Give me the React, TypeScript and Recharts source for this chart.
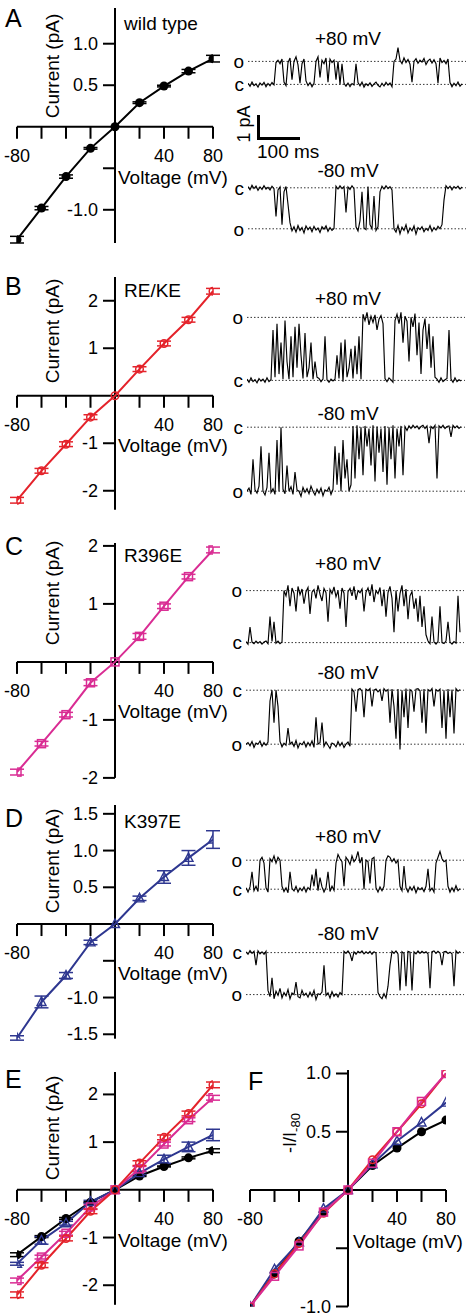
import React from 'react';
import { LineChart, Line, XAxis, YAxis, ReferenceLine, ReferenceDot, ErrorBar } from 'recharts';

const FONT = '"Liberation Sans", Arial, Helvetica, sans-serif';

// ---------- IV data ----------
const voltages = [-80, -60, -40, -20, 0, 20, 40, 60, 80];
const wtCurrent = [-1.36, -0.98, -0.6, -0.26, 0, 0.29, 0.49, 0.67, 0.82];
const wtErr = [0.04, 0.02, 0.02, 0.01, 0, 0.01, 0.01, 0.02, 0.04];
const rekeCurrent = [-2.2, -1.58, -1.02, -0.45, 0, 0.56, 1.1, 1.6, 2.2];
const rekeErr = [0.06, 0.05, 0.05, 0.05, 0, 0.05, 0.05, 0.05, 0.06];
const r396eCurrent = [-1.9, -1.41, -0.91, -0.36, 0, 0.44, 0.96, 1.47, 1.93];
const r396eErr = [0.05, 0.04, 0.04, 0.05, 0, 0.05, 0.04, 0.04, 0.05];
const k397eCurrent = [-1.55, -1.06, -0.7, -0.25, 0, 0.35, 0.64, 0.9, 1.15];
const k397eErr = [0.03, 0.08, 0.04, 0.03, 0, 0.03, 0.085, 0.1, 0.12];

// normalized -I/I-80
const wtNorm = [-1, -0.72, -0.44, -0.19, 0, 0.21, 0.36, 0.5, 0.6];
const rekeNorm = [-1, -0.72, -0.46, -0.2, 0, 0.26, 0.5, 0.74, 1.0];
const r396eNorm = [-1, -0.74, -0.48, -0.19, 0, 0.23, 0.5, 0.76, 1.0];
const k397eNorm = [-1, -0.68, -0.45, -0.16, 0, 0.22, 0.42, 0.58, 0.75];

// ---------- tick labels ----------
const xTicks = [-80, -60, -40, -20, 20, 40, 60, 80];
const xTickLabels = ['-80', '', '', '', '', '40', '', '80'];
const aYTicks = [1.0, 0.5, -0.5, -1.0];
const aYTickLabels = ['1.0', '0.5', '', '-1.0'];
const bYTicks = [2, 1, -1, -2];
const bYTickLabels = ['2', '1', '-1', '-2'];
const cYTicks = [2, 1, -1, -2];
const cYTickLabels = ['2', '1', '-1', '-2'];
const dYTicks = [1.5, 1.0, 0.5, -0.5, -1.0, -1.5];
const dYTickLabels = ['1.5', '1.0', '0.5', '', '-1.0', '-1.5'];
const eYTicks = [2, 1, -1, -2];
const eYTickLabels = ['2', '1', '-1', '-2'];
const fYTicks = [1.0, 0.5, -0.5, -1.0];
const fYTickLabels = ['1.0', '0.5', '', '-1.0'];

// ---------- single channel traces (fraction of open level; 0 = closed) ----------
const traceA80 = [0.05,-0.08,0.1,-0.05,0.02,-0.12,0.06,-0.03,0.09,-0.1,0.04,-0.06,0.08,-0.02,
0.95,1.05,0.9,1.1,0.1,-0.05,0.95,1.15,0.2,1.0,1.2,0.85,0.05,0.9,1.1,0.15,-0.05,0.08,-0.1,0.05,1.0,1.2,0.3,1.05,0.9,1.15,0.1,1.1,0.95,1.05,0.2,1.0,0.0,0.9,0.05,
-0.08,0.06,-0.1,0.04,-0.02,0.9,0.08,-0.06,0.1,-0.12,0.03,-0.05,0.07,-0.09,0.02,0.1,-0.04,-0.11,0.05,-0.07,0.09,-0.03,0.06,-0.1,
1.0,1.1,1.6,1.05,0.9,1.15,0.95,1.08,0.88,0.1,1.0,1.12,0.92,1.05,0.97,1.13,0.86,1.02,1.1,0.93,1.07,0.9,0.05,1.15,0.95,1.04,0.9,1.1,
0.08,-0.1,0.05,-0.06,0.1,-0.08,0.02];
const traceAm80 = [0.03,-0.05,0.06,-0.02,0.04,-0.06,0.02,-0.04,0.05,-0.03,0.01,-0.05,0.04,-0.02,
-0.7,-0.05,0.02,-0.9,-0.1,0.03,-0.4,
-0.85,-1.05,-0.95,-1.08,-0.92,-1.04,-0.97,-1.1,-0.93,-1.02,-0.96,-1.07,-0.94,-1.03,-0.98,-1.09,-0.95,-1.01,-0.93,-1.06,-0.97,-1.04,-0.99,
0.04,-0.03,0.05,-0.02,0.03,-0.6,0.02,-0.04,0.05,-0.02,
-0.95,-1.05,-0.8,-0.1,-0.98,-1.02,0.03,-0.9,-1.0,-0.2,-1.04,-0.95,-0.1,0.04,-0.03,0.05,-0.02,0.03,-0.05,
-1.0,-1.08,-0.92,-1.12,-0.96,-1.04,-0.9,-1.1,-0.98,-1.05,-0.93,-1.13,-0.97,-1.02,-0.95,-1.07,-0.99,-1.04,-0.92,-1.06,-0.97,-1.03,-0.94,-1.0,-0.9,
-0.3,0.05,-0.02,0.04,-0.05,0.03,-0.01,0.04,-0.03,0.02];
const traceB80 = [0.02,-0.03,0.04,-0.02,0.01,-0.04,0.03,-0.01,0.02,-0.03,0.04,-0.02,0.01,
0.8,0.05,0.9,0.1,0.6,0.02,0.95,0.3,0.02,0.7,0.05,0.85,0.2,0.9,0.4,0.03,0.75,0.05,0.2,0.6,0.02,0.3,0.05,
0.03,-0.02,0.02,0.7,0.01,-0.03,0.02,-0.01,
0.02,0.4,0.03,0.6,-0.02,0.65,0.05,0.2,0.5,0.03,0.55,0.1,0.7,0.02,
1.05,0.95,1.08,0.88,1.02,0.92,1.04,0.8,0.97,1.03,0.9,
0.03,-0.02,0.04,0.01,-0.03,
0.95,1.05,0.9,1.08,0.6,1.02,0.94,0.3,1.0,0.85,1.06,0.4,0.92,0.1,0.8,0.98,0.5,0.9,0.2,0.7,0.05,
0.02,-0.03,0.04,-0.02,0.01,0.03,0.8,0.02,-0.03,0.04,-0.02,0.01,-0.01];
const traceBm80 = [-1.0,-0.95,-1.05,-0.5,-0.98,-1.03,-0.92,-0.3,-1.0,-1.06,-0.94,-0.4,-1.02,-0.96,-1.05,-0.2,-1.0,0.0,-0.97,-1.04,-0.6,-1.0,-0.93,-1.05,-0.7,-0.98,-1.0,-1.08,-0.94,-1.02,-0.96,-1.04,-0.92,-1.0,-1.06,-0.97,-1.03,-0.95,-1.07,-0.98,-1.0,-0.94,-1.05,-0.97,-0.3,-0.9,-0.4,-1.0,-0.2,-0.8,-0.5,-1.0,-0.9,
0.02,-0.8,0.03,-0.5,0.0,-0.75,0.02,-0.3,-0.02,-0.6,0.03,-0.85,0.01,-0.4,-0.02,-0.7,0.02,-0.9,0.0,-0.5,0.03,-0.8,-0.02,-0.3,0.02,-0.75,0.01,-0.05,
0.02,-0.02,0.03,-0.01,0.02,-0.03,0.01,0.03,-0.02,0.02,-0.25,0.01,-0.02,0.03,-0.8,0.02,-0.01,0.03,-0.02,0.01,0.02,-0.15,0.03,-0.01,0.02,-0.02,0.01];
const traceC80 = [0.02,-0.03,0.3,0.01,-0.02,0.03,-0.01,0.02,-0.03,0.01,0.03,-0.02,0.5,0.02,0.4,-0.01,0.03,-0.02,0.01,
1.0,0.9,1.1,0.7,1.05,0.95,0.6,1.08,0.92,1.03,
0.75,0.98,1.06,0.55,0.97,1.02,0.85,1.1,0.93,0.8,
1.04,0.96,0.4,1.02,0.94,1.07,0.88,1.0,0.65,1.05,
0.95,0.3,0.98,1.04,0.9,1.08,0.82,1.0,0.96,1.03,
0.6,0.97,1.05,0.9,1.12,0.78,1.0,0.94,1.06,0.7,
1.02,0.5,0.96,1.08,0.85,0.2,1.0,0.6,0.94,1.1,
0.7,1.03,0.45,0.9,0.98,0.65,0.85,0.4,0.9,0.3,
0.7,0.15,
0.03,-0.02,0.5,0.01,-0.03,0.02,0.7,0.0,-0.02,0.03,0.4,0.01,-0.03,0.02,-0.01,0.9,0.2];
const traceCm80 = [-1.0,-0.97,-1.03,-0.95,-1.06,-0.98,-1.0,-0.94,-1.04,-0.97,
-1.02,-0.96,-0.2,0.0,-0.6,0.0,-0.3,-0.95,-1.05,-0.98,
-1.02,-0.7,-1.0,-0.96,-1.04,-0.93,-1.07,-0.98,-1.01,-0.95,
-1.05,-0.97,-1.03,-0.94,-1.06,-0.5,-1.0,-0.97,-0.6,-1.04,
-0.96,-1.02,-1.08,-0.98,-1.0,-1.05,-0.95,-1.03,-0.97,-1.06,
-1.0,-0.96,-1.04,
0.02,-0.03,-0.4,0.01,0.03,-0.02,-0.5,0.02,-0.01,0.03,
-0.3,0.0,0.02,-0.03,0.01,-0.2,0.03,-0.02,0.01,-0.6,
0.02,-0.3,-0.9,0.02,-1.1,0.0,-0.5,0.03,-0.7,0.01,
-0.02,-0.4,0.02,0.03,-0.01,-0.6,0.02,-0.8,0.01,-0.02,
0.03,-0.3,0.01,-0.02,0.02,-0.7,0.0,-0.9,0.02,-0.5,
0.01,-0.8,0.03,-0.02,0.01];
const traceD80 = [0.05,-0.1,0.08,0.6,-0.05,0.1,-0.08,
1.0,1.1,0.9,
0.05,-0.1,
1.05,0.95,1.15,0.9,1.1,1.0,
0.1,-0.08,0.05,-0.12,0.6,0.02,-0.06,0.1,-0.1,0.04,-0.05,0.08,-0.1,0.06,-0.02,0.5,0.1,0.7,-0.05,0.4,0.08,-0.1,0.05,0.6,-0.08,0.1,-0.04,
0.9,1.2,1.05,0.95,0.1,1.1,1.0,0.85,1.15,0.95,1.05,1.3,0.9,1.1,0.0,1.0,0.95,0.2,1.05,1.1,
0.05,-0.1,0.08,-0.05,0.1,
1.0,1.15,1.1,0.95,1.05,0.9,1.0,
0.1,-0.05,0.8,0.05,-0.1,0.08,-0.04,0.1,-0.12,0.06,-0.02,0.05,-0.08,0.1,0.7,-0.06,0.04,-0.1,
0.9,1.1,1.3,1.05,0.95,1.0,
0.1,-0.1,0.05,-0.08,0.12,-0.05,0.02];
const traceDm80 = [0.02,-0.04,0.05,-0.02,0.03,-0.3,0.04,-0.03,0.02,-0.04,0.03,
-0.9,-1.05,-0.6,-1.1,-0.92,-1.02,-0.85,-1.08,-0.95,-1.03,
-0.88,-1.1,-0.96,-1.0,-0.7,-1.05,-1.08,-0.9,-1.02,-0.97,
-1.06,-0.94,-1.04,-0.9,-1.12,-0.98,-1.0,-0.94,-0.3,-1.02,
-0.96,-1.08,-0.93,-1.04,-0.98,-1.06,-0.95,-1.0,
0.03,-0.02,0.04,-0.03,-0.2,0.02,-0.04,0.03,-0.01,0.04,-0.03,0.02,-0.02,0.03,-0.04,0.02,-0.01,
-0.95,-1.05,-1.1,-0.98,-1.08,-0.8,
-0.3,0.03,-0.02,0.04,-0.03,-0.9,0.02,-0.02,-0.8,0.03,
0.01,-0.9,0.02,-0.03,0.04,-0.02,0.03,-0.01,0.02,-0.03,
-0.85,0.02,0.04,-0.02,0.03,-0.01,-0.3,0.02,0.03,-0.02,
0.01,-0.03,-0.8,0.04,-0.02,0.03];

// ---------- colours ----------
const BLACK = '#000000';
const RED = '#e4232b';
const MAGENTA = '#d92c93';
const BLUE = '#2e3790';

const ivRows = voltages.map((v, i) => ({
  v,
  wt: wtCurrent[i], wtErr: wtErr[i],
  reke: rekeCurrent[i], rekeErr: rekeErr[i],
  r396e: r396eCurrent[i], r396eErr: r396eErr[i],
  k397e: k397eCurrent[i], k397eErr: k397eErr[i],
  wtN: wtNorm[i], rekeN: rekeNorm[i], r396eN: r396eNorm[i], k397eN: k397eNorm[i],
}));

type Marker = 'filledCircle' | 'openCircle' | 'openSquare' | 'openTriangle';
type SeriesDef = { key: string; errKey?: string; color: string; marker: Marker };

function markerRenderer(kind: Marker, color: string) {
  return (props: any) => {
    const { cx, cy, index } = props;
    const k = `m-${index}`;
    if (cx == null || cy == null) return <g key={k} />;
    if (kind === 'filledCircle') return <circle key={k} cx={cx} cy={cy} r={4.5} fill={color} />;
    if (kind === 'openCircle')
      return <circle key={k} cx={cx} cy={cy} r={3.8} fill="none" stroke={color} strokeWidth={1.5} />;
    if (kind === 'openSquare')
      return <rect key={k} x={cx - 4} y={cy - 4} width={8} height={8} fill="none" stroke={color} strokeWidth={1.5} />;
    return (
      <polygon key={k} points={`${cx},${cy - 5} ${cx - 4.5},${cy + 3.5} ${cx + 4.5},${cy + 3.5}`}
        fill="none" stroke={color} strokeWidth={1.4} />
    );
  };
}

type IVProps = {
  left: number; plotTop: number; plotH: number; yDomain: [number, number];
  yTicks: number[]; yTickLabels: string[]; series: SeriesDef[]; showErr: boolean;
};

function IVPanel({ left, plotTop, plotH, yDomain, yTicks, yTickLabels, series, showErr }: IVProps) {
  const mt = 12, mb = 70, ml = 17, mr = 27;
  const width = ml + 196 + mr;
  const height = mt + plotH + mb;
  return (
    <div style={{ position: 'absolute', left, top: plotTop - mt }}>
      <LineChart width={width} height={height} data={ivRows} margin={{ top: mt, right: mr, bottom: mb, left: ml }}>
        <XAxis type="number" dataKey="v" domain={[-80, 80]} hide allowDataOverflow />
        <YAxis type="number" domain={yDomain} hide allowDataOverflow />
        <ReferenceLine segment={[{ x: -80, y: 0 }, { x: 80, y: 0 }]} stroke="#000" strokeWidth={2} ifOverflow="visible" />
        <ReferenceLine segment={[{ x: 0, y: yDomain[0] }, { x: 0, y: yDomain[1] }]} stroke="#000" strokeWidth={2} ifOverflow="visible" />
        {xTicks.map((t, i) => (
          <ReferenceDot key={'xt' + i} x={t} y={0} ifOverflow="visible"
            shape={(p: any) => (
              <g>
                <line x1={p.cx} y1={p.cy} x2={p.cx} y2={p.cy + 12} stroke="#000" strokeWidth={2} />
                {xTickLabels[i] ? (
                  <text x={p.cx} y={p.cy + 29} textAnchor="middle" dominantBaseline="central"
                    fontFamily={FONT} fontSize={18} fill="#000">{xTickLabels[i]}</text>
                ) : null}
              </g>
            )} />
        ))}
        {yTicks.map((t, i) => (
          <ReferenceDot key={'yt' + i} x={0} y={t} ifOverflow="visible"
            shape={(p: any) => (
              <g>
                <line x1={p.cx - 12} y1={p.cy} x2={p.cx} y2={p.cy} stroke="#000" strokeWidth={2} />
                {yTickLabels[i] ? (
                  <text x={p.cx - 17} y={p.cy} textAnchor="end" dominantBaseline="central"
                    fontFamily={FONT} fontSize={18} fill="#000">{yTickLabels[i]}</text>
                ) : null}
              </g>
            )} />
        ))}
        {series.map((s) => (
          <Line key={s.key} dataKey={s.key} type="linear" stroke={s.color} strokeWidth={2}
            dot={markerRenderer(s.marker, s.color)} activeDot={false} isAnimationActive={false}>
            {showErr && s.errKey ? (
              <ErrorBar dataKey={s.errKey} width={7} stroke={s.color} strokeWidth={1.5} direction="y" />
            ) : null}
          </Line>
        ))}
      </LineChart>
    </div>
  );
}

type TraceProps = { x0: number; yC: number; d: number; values: number[]; positive: boolean };

function Trace({ x0, yC, d, values, positive }: TraceProps) {
  const ml = 20, mr = 4, step = 2;
  const plotW = step * (values.length + 1);
  const lo = -1.8, hi = 1.8;
  const plotH = (hi - lo) * d;
  const data = values.map((v, i) => ({ t: i, v }));
  const lab = (s: string) => ({ value: s, position: 'left' as const, offset: 4, fontSize: 19, fill: '#000', fontFamily: FONT });
  return (
    <div style={{ position: 'absolute', left: x0 - ml, top: yC - hi * d }}>
      <LineChart width={ml + plotW + mr} height={plotH} data={data} margin={{ top: 0, bottom: 0, left: ml, right: mr }}>
        <XAxis type="number" dataKey="t" domain={[0, values.length + 1]} hide allowDataOverflow />
        <YAxis type="number" domain={[lo, hi]} hide allowDataOverflow />
        <ReferenceLine y={0} stroke="#333" strokeDasharray="1.5 2" strokeWidth={1} label={lab('c')} />
        <ReferenceLine y={positive ? 1 : -1} stroke="#333" strokeDasharray="1.5 2" strokeWidth={1} label={lab('o')} />
        <Line dataKey="v" type="linear" stroke="#000" strokeWidth={1.15} dot={false} activeDot={false} isAnimationActive={false} />
      </LineChart>
    </div>
  );
}

const allSeriesE: SeriesDef[] = [
  { key: 'wt', errKey: 'wtErr', color: BLACK, marker: 'filledCircle' },
  { key: 'k397e', errKey: 'k397eErr', color: BLUE, marker: 'openTriangle' },
  { key: 'r396e', errKey: 'r396eErr', color: MAGENTA, marker: 'openSquare' },
  { key: 'reke', errKey: 'rekeErr', color: RED, marker: 'openCircle' },
];
const allSeriesF: SeriesDef[] = [
  { key: 'wtN', color: BLACK, marker: 'filledCircle' },
  { key: 'k397eN', color: BLUE, marker: 'openTriangle' },
  { key: 'rekeN', color: RED, marker: 'openCircle' },
  { key: 'r396eN', color: MAGENTA, marker: 'openSquare' },
];

const txt = { fontFamily: FONT, fill: '#000' };

function Overlay() {
  const currentLabelY = [66, 331, 593, 861, 1128];
  const voltageLabelY = [177, 445, 711, 973, 1240];
  const titles: [string, number][] = [['wild type', 30], ['RE/KE', 297], ['R396E', 562], ['K397E', 828]];
  const letters: [string, number, number][] = [['A', 5, 27], ['B', 5, 295], ['C', 5, 555], ['D', 5, 827], ['E', 5, 1088], ['F', 248, 1090]];
  const plusY = [38, 298, 563, 836];
  const minusY = [170, 413, 672, 933];
  return (
    <svg width={472} height={1316} style={{ position: 'absolute', left: 0, top: 0, pointerEvents: 'none' }}>
      {letters.map(([s, x, y]) => (
        <text key={s} x={x} y={y} fontSize={25} {...txt}>{s}</text>
      ))}
      {titles.map(([s, y]) => (
        <text key={s} x={124} y={y} fontSize={19} {...txt}>{s}</text>
      ))}
      {currentLabelY.map((y, i) => (
        <text key={'cl' + i} x={52} y={y} fontSize={19} textAnchor="middle" dominantBaseline="central"
          transform={`rotate(-90 52 ${y})`} {...txt}>Current (pA)</text>
      ))}
      {voltageLabelY.map((y, i) => (
        <text key={'vl' + i} x={118} y={y} fontSize={19} dominantBaseline="central" {...txt}>Voltage (mV)</text>
      ))}
      <text x={353} y={1241} fontSize={19} dominantBaseline="central" {...txt}>Voltage (mV)</text>
      <text x={290} y={1133} fontSize={18} textAnchor="middle" dominantBaseline="central"
        transform="rotate(-90 290 1133)" {...txt}>-I/I<tspan fontSize={13} dy={5}>-80</tspan></text>
      {plusY.map((y, i) => (
        <text key={'p' + i} x={348} y={y} fontSize={19} textAnchor="middle" dominantBaseline="central" {...txt}>+80 mV</text>
      ))}
      {minusY.map((y, i) => (
        <text key={'m' + i} x={348} y={y} fontSize={19} textAnchor="middle" dominantBaseline="central" {...txt}>-80 mV</text>
      ))}
      {/* scale bar */}
      <path d="M258.5 115 L258.5 138.5 L300 138.5" fill="none" stroke="#000" strokeWidth={3} />
      <text x={244} y={124} fontSize={18} textAnchor="middle" dominantBaseline="central"
        transform="rotate(-90 244 124)" {...txt}>1 pA</text>
      <text x={257} y={151} fontSize={19} dominantBaseline="central" {...txt}>100 ms</text>
    </svg>
  );
}

export default function App() {
  return (
    <div style={{ position: 'absolute', left: 0, top: 0, width: 472, height: 1316, background: '#fff', overflow: 'hidden' }}>
      <IVPanel left={0} plotTop={8.3} plotH={235} yDomain={[-1.4, 1.43]} yTicks={aYTicks} yTickLabels={aYTickLabels}
        series={[{ key: 'wt', errKey: 'wtErr', color: BLACK, marker: 'filledCircle' }]} showErr />
      <IVPanel left={0} plotTop={277.25} plotH={232.75} yDomain={[-2.4, 2.5]} yTicks={bYTicks} yTickLabels={bYTickLabels}
        series={[{ key: 'reke', errKey: 'rekeErr', color: RED, marker: 'openCircle' }]} showErr />
      <IVPanel left={0} plotTop={543.1} plotH={234.9} yDomain={[-2.0, 2.05]} yTicks={cYTicks} yTickLabels={cYTickLabels}
        series={[{ key: 'r396e', errKey: 'r396eErr', color: MAGENTA, marker: 'openSquare' }]} showErr />
      <IVPanel left={0} plotTop={804.9} plotH={233.7} yDomain={[-1.56, 1.62]} yTicks={dYTicks} yTickLabels={dYTickLabels}
        series={[{ key: 'k397e', errKey: 'k397eErr', color: BLUE, marker: 'openTriangle' }]} showErr />
      <IVPanel left={0} plotTop={1072.2} plotH={232.8} yDomain={[-2.41, 2.47]} yTicks={eYTicks} yTickLabels={eYTickLabels}
        series={allSeriesE} showErr />
      <IVPanel left={233} plotTop={1069.5} plotH={236.5} yDomain={[-1.0, 1.03]} yTicks={fYTicks} yTickLabels={fYTickLabels}
        series={allSeriesF} showErr={false} />

      <Trace x0={248} yC={84} d={23} values={traceA80} positive />
      <Trace x0={248} yC={188} d={41} values={traceAm80} positive={false} />
      <Trace x0={247} yC={380} d={63} values={traceB80} positive />
      <Trace x0={247} yC={427} d={64} values={traceBm80} positive={false} />
      <Trace x0={246} yC={643} d={52} values={traceC80} positive />
      <Trace x0={246} yC={690} d={54} values={traceCm80} positive={false} />
      <Trace x0={246} yC={889} d={29} values={traceD80} positive />
      <Trace x0={246} yC={953} d={42} values={traceDm80} positive={false} />

      <Overlay />
    </div>
  );
}
